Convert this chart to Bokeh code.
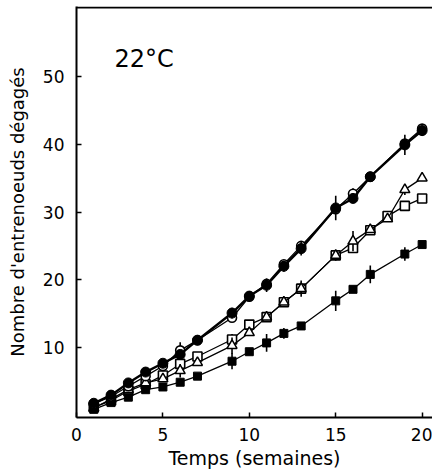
from bokeh.plotting import figure
from bokeh.models import Range1d, FixedTicker, Span, Label, ColumnDataSource
from bokeh.embed import file_html
from bokeh.resources import INLINE

# ---- data ----
weeks_a = [1, 2, 3, 4, 5, 6, 7, 9, 10, 11, 12, 13, 15, 16, 17, 19, 20]
weeks_b = [1, 2, 3, 4, 5, 6, 7, 9, 10, 11, 12, 13, 15, 16, 17, 18, 19, 20]

filled_circle = [1.8, 3.0, 4.8, 6.4, 7.7, 9.0, 11.1, 15.1, 17.6, 19.2, 22.0, 24.6, 30.6, 32.0, 35.2, 39.9, 42.0]
open_circle = [1.7, 2.8, 4.3, 5.8, 7.3, 9.6, 11.1, 14.4, 17.5, 19.4, 22.3, 25.0, 30.4, 32.7, 35.2, 40.1, 42.3]
open_triangle = [1.1, 2.4, 3.8, 4.8, 5.4, 6.6, 7.8, 10.3, 12.2, 14.5, 16.7, 18.7, 23.6, 25.7, 27.4, 29.0, 33.3, 35.0]
open_square = [1.2, 2.2, 3.6, 4.6, 5.9, 7.6, 8.7, 11.2, 13.4, 14.5, 16.7, 18.7, 23.6, 24.7, 27.3, 29.4, 30.9, 32.0]
filled_square = [0.9, 1.9, 2.7, 3.8, 4.2, 4.9, 5.8, 8.0, 9.4, 10.7, 12.1, 13.2, 16.9, 18.6, 20.8, 23.8, 25.2]

# half-length of the vertical error bars (0 = none drawn)
fc_err = [0, 0, 0, 0, 0, 0, 0, 0.8, 0, 1.0, 0.8, 1.0, 1.8, 0, 0, 1.5, 0.8]
oc_err = [0, 0, 0, 0, 0, 1.2, 0, 0, 0, 0, 0, 0, 0, 0.8, 0, 0, 0]
tri_err = [0, 0, 0, 0, 0, 1.0, 0, 1.2, 0, 0, 0, 1.2, 0.8, 1.5, 0, 0, 0.8, 0]
sq_err = [0, 0, 0, 0, 0, 0, 0, 0.8, 0, 0, 0, 0, 0, 0, 0, 0, 0, 0]
fsq_err = [0, 0, 0, 0, 0, 0, 0, 1.2, 0, 1.3, 0.8, 0, 1.5, 0, 1.3, 1.0, 0]

x_ticks = [0, 5, 10, 15, 20]
y_ticks = [10, 20, 30, 40, 50]
title_text = "22°C"

FONT = "DejaVu Sans"

p = figure(width=432, height=476, output_backend="svg", toolbar_location=None,
           x_range=Range1d(0, 20.6), y_range=Range1d(-0.3, 60.3),
           min_border_left=76, min_border_right=0, min_border_top=6, min_border_bottom=59)
p.background_fill_color = "white"
p.border_fill_color = "white"
p.outline_line_color = None
p.grid.visible = False

for ax in (p.xaxis[0], p.yaxis[0]):
    ax.axis_line_width = 2
    ax.axis_line_color = "black"
    ax.major_tick_in = 5
    ax.major_tick_out = 0
    ax.major_tick_line_width = 1.5
    ax.minor_tick_line_color = None
    ax.major_label_text_font = FONT
    ax.major_label_text_font_size = "17px"
    ax.major_label_text_color = "black"
    ax.axis_label_text_font = FONT
    ax.axis_label_text_font_style = "normal"
    ax.axis_label_text_color = "black"

p.xaxis.ticker = FixedTicker(ticks=x_ticks)
p.yaxis.ticker = FixedTicker(ticks=y_ticks)
p.xaxis.major_label_standoff = 10
p.yaxis.major_label_standoff = 12
p.xaxis.axis_label = "Temps (semaines)"
p.xaxis.axis_label_text_font_size = "19px"
p.xaxis.axis_label_standoff = 3
p.yaxis.axis_label = "Nombre d'entrenoeuds dégagés"
p.yaxis.axis_label_text_font_size = "18px"
p.yaxis.axis_label_standoff = 12

# top frame line
p.add_layout(Span(location=60.15, dimension="width", line_color="black", line_width=2))


def errbars(xs, ys, es):
    src = dict(x=[x for x, e in zip(xs, es) if e > 0],
               y0=[y - e for y, e in zip(ys, es) if e > 0],
               y1=[y + e for y, e in zip(ys, es) if e > 0])
    p.segment(x0="x", y0="y0", x1="x", y1="y1", source=ColumnDataSource(src),
              line_color="black", line_width=1.6)


# open squares
p.line(weeks_b, open_square, line_color="black", line_width=1.3)
errbars(weeks_b, open_square, sq_err)
p.scatter(weeks_b, open_square, marker="square", size=9, fill_color="white",
          line_color="black", line_width=1.6)

# open triangles
p.line(weeks_b, open_triangle, line_color="black", line_width=1.3)
errbars(weeks_b, open_triangle, tri_err)
p.scatter(weeks_b, open_triangle, marker="triangle", size=10, fill_color="white",
          line_color="black", line_width=1.5)

# filled squares
p.line(weeks_a, filled_square, line_color="black", line_width=1.3)
errbars(weeks_a, filled_square, fsq_err)
p.scatter(weeks_a, filled_square, marker="square", size=8, fill_color="black",
          line_color="black")

# open circles
p.line(weeks_a, open_circle, line_color="black", line_width=1.3)
errbars(weeks_a, open_circle, oc_err)
p.scatter(weeks_a, open_circle, marker="circle", size=9, fill_color="white",
          line_color="black", line_width=1.6)

# filled circles
p.line(weeks_a, filled_circle, line_color="black", line_width=2.4)
errbars(weeks_a, filled_circle, fc_err)
p.scatter(weeks_a, filled_circle, marker="circle", size=10, fill_color="black",
          line_color="black")

p.add_layout(Label(x=2.2, y=52.6, text=title_text, text_font=FONT,
                   text_font_size="24px", text_color="black",
                   text_baseline="alphabetic"))

open("out.html", "w").write(file_html(p, INLINE))
